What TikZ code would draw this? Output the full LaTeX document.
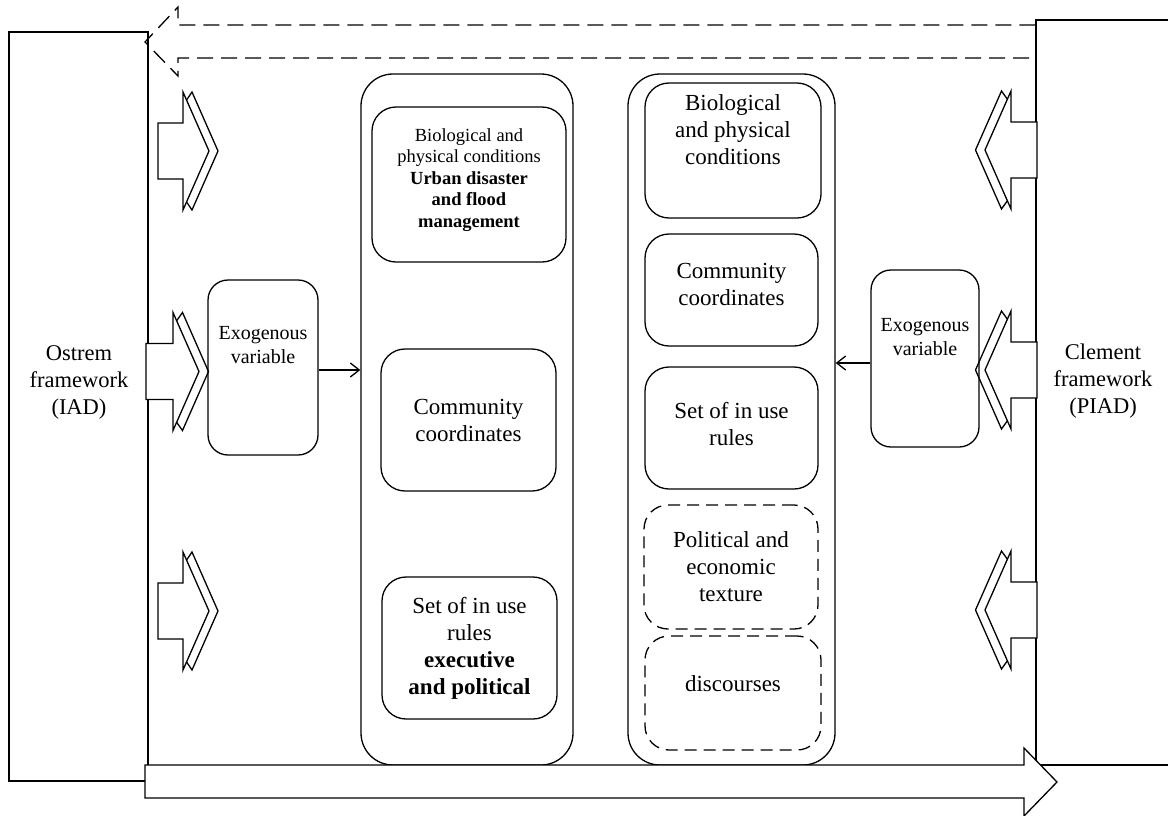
\documentclass[tikz,border=0pt]{standalone}
\usepackage{fontspec}
\setmainfont{Liberation Serif}
\usetikzlibrary{arrows.meta}

% Double-outlined block arrow: #1 shaft start x, #2 head base x, #3 tip x,
% #4 centre y, #5 signed offset of the second (shadow) chevron
\newcommand\dblchev[5]{%
  \draw[fill=white] (#1,#4-28) -- (#2,#4-28) -- (#2,#4-59) -- (#3,#4)
        -- (#2,#4+59) -- (#2,#4+28) -- (#1,#4+28) -- cycle;
  \draw (#2+0.4*#5,#4-51) -- (#2+#5,#4-59) -- (#3+#5,#4)
        -- (#2+#5,#4+59) -- (#2+0.4*#5,#4+51);
}

\begin{document}
\begin{tikzpicture}[x=1pt,y=-1pt,line width=1.3pt,
  frame/.style={draw,inner sep=0pt},
  col/.style={draw,rounded corners=32pt,inner sep=0pt},
  sub/.style={draw,rounded corners=24pt,inner sep=0pt,align=center,
              font=\fontsize{23}{27}\selectfont},
  dsub/.style={sub,dash pattern=on 12pt off 7pt},
  exo/.style={draw,rounded corners=20pt,inner sep=0pt},
  lbl/.style={align=center,inner sep=0pt},
  link/.style={-{Straight Barb[length=9pt,width=14pt]}},
  ]
\useasboundingbox (0,0) rectangle (1168,815);
\clip (0,0) rectangle (1168,815);

% outer frameworks
\node[frame,minimum width=139pt,minimum height=749pt] (ostrem) at (78.5,406.5) {};
\node[frame,minimum width=144pt,minimum height=745pt] (clement) at (1108,392.5) {};
\node[lbl,font=\fontsize{22.5}{27}\selectfont] (ostremlbl) at (79,382)
  {Ostrem\\framework\\(IAD)};
\node[lbl,font=\fontsize{22.5}{27}\selectfont] (clementlbl) at (1103,381)
  {Clement\\framework\\(PIAD)};

% feedback arrow along the top (dashed)
\draw[dash pattern=on 16pt off 8pt]
  (clement.west |- 0,25) -- (178,25) -- (178,7) -- (145,42)
  -- (178,76) -- (178,58) -- (clement.west |- 0,58);

% block arrows entering from both frameworks
\dblchev{158}{183}{209}{151}{9}
\dblchev{146}{173}{199}{371.5}{9.5}
\dblchev{158}{183}{209}{611}{9}
\dblchev{1037}{1011}{985}{150}{-9.5}
\dblchev{1037}{1011}{985}{370}{-9.5}
\dblchev{1037}{1011}{985}{610}{-9.5}

% the two columns
\node[col,minimum width=212pt,minimum height=691pt] (colL) at (467,419.5) {};
\node[col,minimum width=207pt,minimum height=691pt] (colR) at (731.5,419.5) {};

% left column content
\node[sub,minimum width=194pt,minimum height=155pt] (lbio) at (469,184.5) {};
\node[lbl,font=\fontsize{18.5}{21.5}\selectfont] (lbiotxt) at (469,180)
  {Biological and\\physical conditions\\
   \textbf{Urban disaster}\\\textbf{and flood}\\\textbf{management}};
\node[sub,minimum width=175pt,minimum height=142pt] (lcom) at (468.5,420)
  {Community\\coordinates};
\node[sub,minimum width=175pt,minimum height=142pt] (lset) at (469.5,648)
  {Set of in use\\rules\\\textbf{executive}\\\textbf{and political}};

% right column content
\node[sub,minimum width=176pt,minimum height=135pt] (rbio) at (733,150.5) {};
\node[lbl,font=\fontsize{23}{27}\selectfont] (rbiotxt) at (733,130)
  {Biological\\and physical\\conditions};
\node[sub,minimum width=173pt,minimum height=112pt] (rcom) at (731.5,290) {};
\node[lbl,font=\fontsize{23}{27}\selectfont] (rcomtxt) at (731.5,284)
  {Community\\coordinates};
\node[sub,minimum width=173pt,minimum height=122pt] (rset) at (731.5,428) {};
\node[lbl,font=\fontsize{23}{27}\selectfont] (rsettxt) at (731.5,424)
  {Set of in use\\rules};
\node[dsub,minimum width=174pt,minimum height=124pt] (rpol) at (731,567)
  {Political and\\economic\\texture};
\node[dsub,minimum width=176pt,minimum height=114pt] (rdis) at (733,693) {};
\node[lbl,font=\fontsize{23}{27}\selectfont] (rdistxt) at (733,684) {discourses};

% exogenous variables
\node[exo,minimum width=110pt,minimum height=175pt] (exoL) at (263,367.5) {};
\node[lbl,font=\fontsize{20}{23.5}\selectfont] (exoLtxt) at (263,345)
  {Exogenous\\variable};
\node[exo,minimum width=108pt,minimum height=177pt] (exoR) at (925,358.5) {};
\node[lbl,font=\fontsize{20}{23.5}\selectfont] (exoRtxt) at (925,337)
  {Exogenous\\variable};

\draw[link] ([yshift=-2.5pt]exoL.east) -- ([yshift=-2.5pt]exoL.east -| colL.west);
\draw[link] ([yshift=-4.5pt]exoR.west) -- ([yshift=-4.5pt]exoR.west -| colR.east);

% outcome arrow along the bottom
\draw[fill=white] (145,765) -- (1024,765) -- (1024,748) -- (1057,782)
  -- (1024,816) -- (1024,798) -- (145,798) -- cycle;
\end{tikzpicture}
\end{document}
